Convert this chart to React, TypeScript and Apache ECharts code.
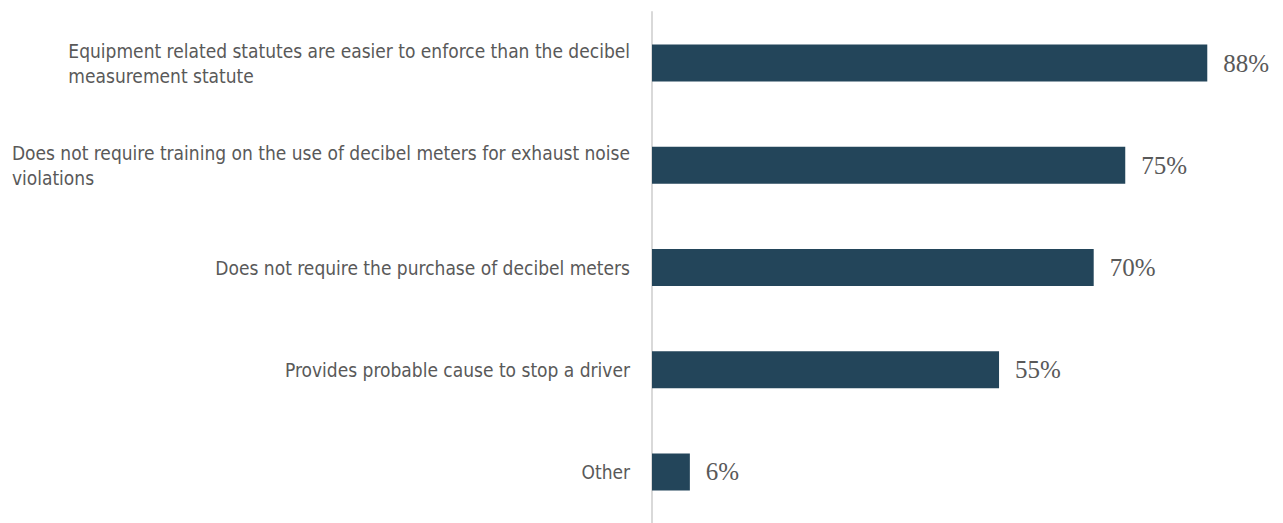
import React, { useEffect, useRef } from "react";
import * as echarts from "echarts";

const categories: string[] = [
  "Equipment related statutes are easier to enforce than the decibel\nmeasurement statute",
  "Does not require training on the use of decibel meters for exhaust noise\nviolations",
  "Does not require the purchase of decibel meters",
  "Provides probable cause to stop a driver",
  "Other",
];
const values: number[] = [88, 75, 70, 55, 6];
const axisMin = 0;
const axisMax = 100;

const labelFont = "'Liberation Sans Narrow', 'DejaVu Sans Condensed', 'Roboto Condensed', 'Arial Narrow', sans-serif";
const valueFont = "'Liberation Serif', 'DejaVu Serif', serif";

export default function App() {
  const ref = useRef<HTMLDivElement>(null);
  useEffect(() => {
    if (!ref.current) return;
    const chart = echarts.init(ref.current, null, { renderer: "svg" });
    chart.setOption({
      animation: false,
      grid: { left: 652, top: 12, width: 632, height: 517, containLabel: false },
      xAxis: {
        type: "value",
        min: axisMin,
        max: axisMax,
        show: false,
      },
      yAxis: {
        type: "category",
        data: categories,
        inverse: true,
        axisLine: { show: true, lineStyle: { color: "#d9d9d9", width: 2 } },
        axisTick: { show: false },
        splitLine: { show: false },
        axisLabel: {
          margin: 22,
          align: "right",
          formatter: (v: string) => `{a|${v}}`,
          rich: {
            a: {
              align: "left",
              fontFamily: labelFont,
              fontSize: 19,
              lineHeight: 25,
              color: "#595959",
            },
          },
        },
      },
      series: [
        {
          type: "bar",
          data: values,
          barWidth: 37,
          itemStyle: { color: "#23455A" },
          label: {
            show: true,
            position: "right",
            distance: 16,
            formatter: "{c}%",
            fontFamily: valueFont,
            fontSize: 25,
            color: "#595959",
          },
        },
      ],
    });
    return () => chart.dispose();
  }, []);
  return (
    <div
      ref={ref}
      style={{ position: "fixed", left: 0, top: 0, width: 1283, height: 523, background: "#ffffff" }}
    />
  );
}
